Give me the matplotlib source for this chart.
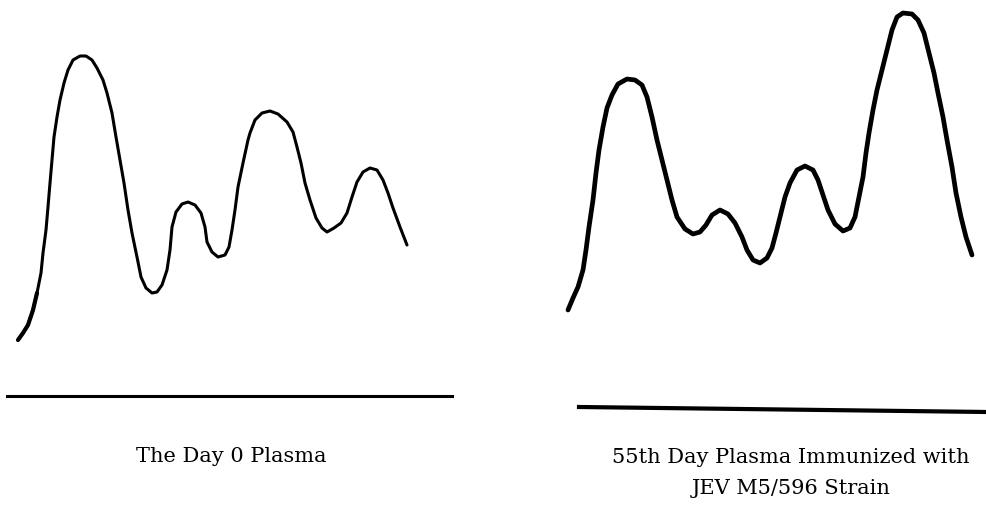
import matplotlib.pyplot as plt

day0_x = [18, 23, 28, 33, 37, 41, 43, 46, 48, 50, 52, 54, 57, 60, 64, 68, 73, 80, 86, 92,
          97, 103, 107, 112, 116, 120, 124, 128, 132, 137, 141, 146, 152, 157, 162, 167,
          170, 172, 176, 182, 188, 195, 201, 205, 207, 212, 218, 225, 229, 232, 235, 238,
          243, 248, 250, 255, 262, 270, 278, 287, 293, 297, 301, 305, 310, 316, 322, 327,
          334, 341, 347, 352, 357, 363, 370, 377, 383, 388, 393, 400, 407]
day0_y = [340, 333, 325, 310, 293, 273, 253, 230, 207, 183, 160, 137, 117, 100, 83, 70, 60,
          56, 56, 60, 68, 80, 93, 113, 137, 160, 183, 210, 233, 257, 277, 288, 293, 292, 285,
          270, 250, 227, 212, 204, 202, 205, 213, 227, 242, 252, 257, 255, 247, 230, 210, 187,
          163, 140, 133, 120, 113, 111, 114, 122, 132, 147, 163, 183, 200, 218, 228, 232,
          228, 223, 213, 197, 182, 172, 168, 170, 180, 193, 208, 227, 245]

day55_x = [568, 573, 578, 583, 586, 589, 593, 596, 599, 603, 607, 612, 618, 627, 635, 642,
           647, 652, 657, 662, 667, 672, 677, 685, 693, 700, 706, 712, 720, 728, 735, 742,
           747, 753, 760, 767, 772, 776, 780, 785, 790, 797, 805, 813, 818, 823, 828, 835,
           843, 850, 855, 859, 863, 866, 869, 873, 877, 882, 887, 892, 897, 903, 912, 918,
           924, 929, 934, 938, 943, 947, 952, 956, 961, 966, 972]
day55_y = [310, 298, 287, 270, 250, 227, 200, 173, 150, 127, 108, 95, 84, 79, 80, 85, 97,
           117, 140, 160, 180, 200, 217, 229, 234, 232, 225, 215, 210, 214, 223, 237, 250,
           260, 263, 258, 248, 233, 217, 197, 183, 170, 166, 170, 180, 195, 210, 224, 231,
           228, 217, 197, 177, 153, 133, 110, 90, 70, 50, 30, 17, 13, 14, 20, 33, 53, 73,
           93, 117, 140, 167, 193, 217, 237, 255]

base0_x = [7, 452]
base0_y = [396, 396]
base55_x = [579, 987]
base55_y = [407, 412]

caption0 = "The Day 0 Plasma"
caption55 = "55th Day Plasma Immunized with\nJEV M5/596 Strain"

fig = plt.figure(figsize=(9.87, 5.08), dpi=100)
ax = fig.add_axes([0, 0, 1, 1])
ax.set_xlim(0, 987)
ax.set_ylim(508, 0)
ax.axis('off')

ax.plot(day0_x, day0_y, color='black', lw=2.2, solid_capstyle='round', solid_joinstyle='round')
# pen pressed a bit harder at the start of the first trace
ax.plot(day0_x[:5], day0_y[:5], color='black', lw=3.0, solid_capstyle='round',
        solid_joinstyle='round')
ax.plot(day55_x, day55_y, color='black', lw=3.4, solid_capstyle='round', solid_joinstyle='round')
ax.plot(base0_x, base0_y, color='black', lw=2.2)
ax.plot(base55_x, base55_y, color='black', lw=3.0)

ax.text(231, 457, caption0, ha='center', va='center', fontsize=15, family='DejaVu Serif')
ax.text(791, 473, caption55, ha='center', va='center', fontsize=15, family='DejaVu Serif',
        linespacing=1.8)

fig.savefig('out.png', dpi=100)
